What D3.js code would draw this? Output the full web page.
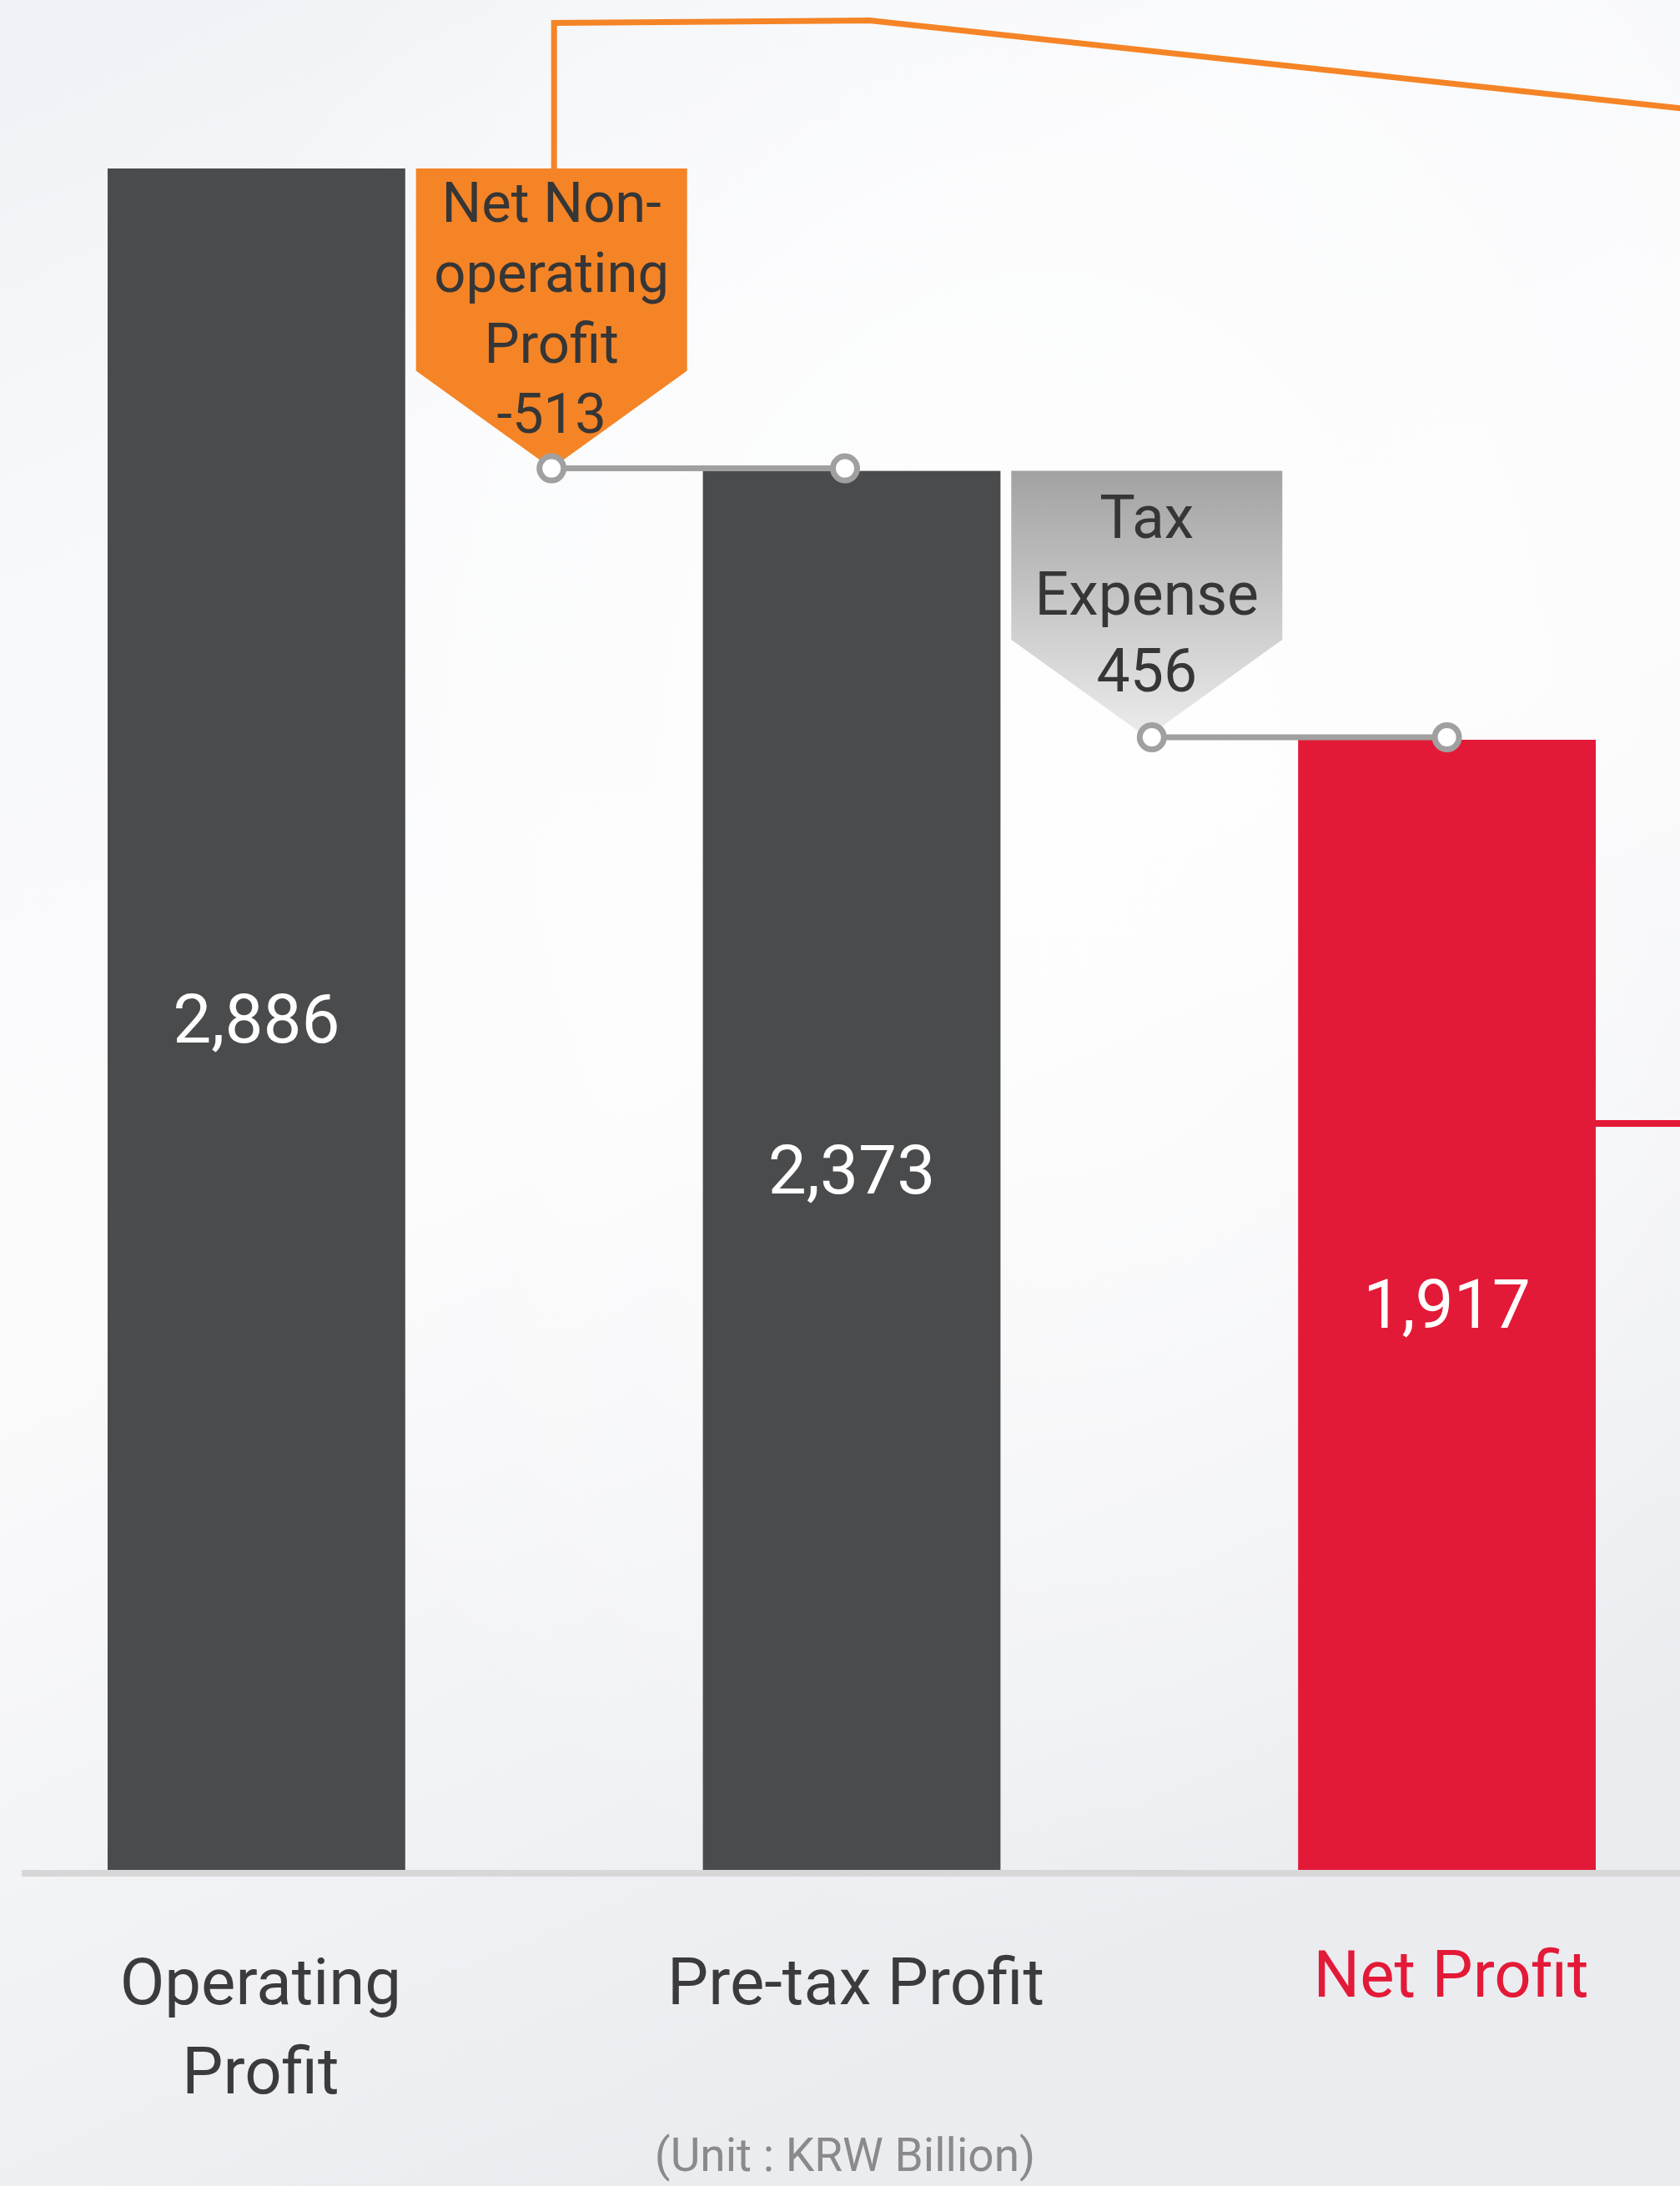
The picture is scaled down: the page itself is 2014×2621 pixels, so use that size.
<!DOCTYPE html>
<html>
<head>
<meta charset="utf-8">
<script src="https://cdn.jsdelivr.net/npm/d3@7"></script>
<style>
  html, body { margin: 0; padding: 0; overflow: hidden; background: #f6f7f9; }
  svg { display: block; }
</style>
</head>
<body>
<div id="chart"></div>
<script>
// ---------------- DATA ----------------
const categories   = ["Operating Profit", "Pre-tax Profit", "Net Profit"];
const categoryLines = [["Operating", "Profit"], ["Pre-tax Profit"], ["Net Profit"]];
const totals       = [2886, 2373, 1917];
const totalLabels  = ["2,886", "2,373", "1,917"];
const stepNames    = [["Net Non-", "operating", "Profit"], ["Tax", "Expense"]];
const stepLabels   = ["-513", "456"];
const stepChange   = [-513, -456];
const unitLabel    = "(Unit : KRW Billion)";
// links continuing off the right edge (position in category units, value in KRW bn)
const orangeLinkPos   = [0.5, 0.5, 1.03, 2.42];
const orangeLinkValue = [2886, 3133, 3137, 2985];
const redLinkPos      = [2.25, 2.45];
const redLinkValue    = [1266, 1266];

// ---------------- LAYOUT ----------------
const W = 2014, H = 2621;
const svg = d3.select("#chart").append("svg").attr("width", W).attr("height", H);
const FONT = "Roboto, 'Noto Sans', sans-serif";

const defs = svg.append("defs");
const bg = defs.append("linearGradient").attr("id", "bg").attr("x1", "0").attr("y1", "0").attr("x2", "0.35").attr("y2", "1");
bg.append("stop").attr("offset", "0").attr("stop-color", "#eef1f5");
bg.append("stop").attr("offset", "0.25").attr("stop-color", "#f8f9fb");
bg.append("stop").attr("offset", "0.55").attr("stop-color", "#fbfbfc");
bg.append("stop").attr("offset", "1").attr("stop-color", "#eaecf0");
const glow = defs.append("radialGradient").attr("id", "glow").attr("cx", "0.62").attr("cy", "0.35").attr("r", "0.55");
glow.append("stop").attr("offset", "0").attr("stop-color", "#ffffff").attr("stop-opacity", 0.85);
glow.append("stop").attr("offset", "1").attr("stop-color", "#ffffff").attr("stop-opacity", 0);
const taxGrad = defs.append("linearGradient").attr("id", "taxGrad").attr("x1", 0).attr("y1", 0).attr("x2", 0).attr("y2", 1);
taxGrad.append("stop").attr("offset", "0").attr("stop-color", "#a2a2a2");
taxGrad.append("stop").attr("offset", "1").attr("stop-color", "#ececec");

svg.append("rect").attr("width", W).attr("height", H).attr("fill", "url(#bg)");
svg.append("rect").attr("width", W).attr("height", H).attr("fill", "url(#glow)");

const x = d3.scaleBand().domain(categories).range([129, 1913]).paddingInner(0.5).paddingOuter(0);
const bw = x.bandwidth();
const y = d3.scaleLinear().domain([0, totals[0]]).range([2242, 202]);
const centerX = c => x(c) + bw / 2;
const pos = d3.scaleLinear().domain([0, 1]).range([centerX(categories[0]), centerX(categories[1])]);

const barColors = ["#4a4b4d", "#4a4b4d", "#e31a37"];
const stepFill = ["#f58426", "url(#taxGrad)"];
const stepFont = [67, 71.5];
const stepLH = [84.5, 92];
const stepDotShift = [0, 6];

// orange link line
const lineGen = d3.line().x(d => pos(d[0])).y(d => y(d[1]));
svg.append("path")
  .attr("d", lineGen(orangeLinkPos.map((p, i) => [p, orangeLinkValue[i]])))
  .attr("fill", "none").attr("stroke", "#f58426").attr("stroke-width", 7).attr("stroke-linejoin", "miter");

// red link line
svg.append("path")
  .attr("d", lineGen(redLinkPos.map((p, i) => [p, redLinkValue[i]])))
  .attr("fill", "none").attr("stroke", "#e31a37").attr("stroke-width", 8);

// bars
svg.selectAll("rect.bar").data(categories).enter().append("rect")
  .attr("class", "bar")
  .attr("x", d => x(d)).attr("width", bw)
  .attr("y", (d, i) => y(totals[i]))
  .attr("height", (d, i) => y(0) - y(totals[i]))
  .attr("fill", (d, i) => barColors[i]);

// axis baseline
svg.append("rect").attr("x", 26).attr("y", y(0)).attr("width", W - 26).attr("height", 8).attr("fill", "#d7d7d8");

// bar value labels
svg.selectAll("text.val").data(categories).enter().append("text")
  .attr("class", "val")
  .attr("x", d => centerX(d))
  .attr("y", (d, i) => (y(totals[i]) + y(0)) / 2 + 28)
  .attr("text-anchor", "middle")
  .attr("font-family", FONT).attr("font-size", 82).attr("fill", "#ffffff")
  .text((d, i) => totalLabels[i]);

// step labels (pentagon callouts) + connectors
stepLabels.forEach((lab, i) => {
  const start = totals[i], end = start + stepChange[i];
  const cx = pos(i + 0.5) - 3;
  const half = 162.5;
  const top = y(start);
  const tip = y(end) - 3;
  const shoulder = tip - 117;
  const g = svg.append("g");
  g.append("path")
    .attr("d", `M${cx - half},${top} L${cx + half},${top} L${cx + half},${shoulder} L${cx},${tip} L${cx - half},${shoulder} Z`)
    .attr("fill", stepFill[i]);
  const lines = stepNames[i].concat([lab]);
  const n = lines.length;
  const mid = (top + tip) / 2 - 13;
  g.selectAll("text").data(lines).enter().append("text")
    .attr("x", cx)
    .attr("y", (d, k) => mid + (k - (n - 1) / 2) * stepLH[i] + stepFont[i] * 0.355)
    .attr("text-anchor", "middle")
    .attr("font-family", FONT).attr("font-size", stepFont[i]).attr("fill", "#363636")
    .text(d => d);
  // connector
  const x1 = cx + stepDotShift[i];
  const x2 = centerX(categories[i + 1]) - (i === 0 ? 8 : 0);
  g.append("line").attr("x1", x1).attr("x2", x2).attr("y1", tip).attr("y2", tip)
    .attr("stroke", "#a0a0a0").attr("stroke-width", 7);
  [x1, x2].forEach(px => {
    g.append("circle").attr("cx", px).attr("cy", tip).attr("r", 14.5)
      .attr("fill", "#ffffff").attr("stroke", "#a0a0a0").attr("stroke-width", 7);
  });
});

// category labels
categories.forEach((c, i) => {
  const baseY = i === 2 ? 2394 : 2403;
  svg.append("g").selectAll("text").data(categoryLines[i]).enter().append("text")
    .attr("x", centerX(c) + 5)
    .attr("y", (d, k) => baseY + k * 107)
    .attr("text-anchor", "middle")
    .attr("font-family", FONT).attr("font-size", 78)
    .attr("fill", i === 2 ? "#e31a37" : "#3b3b3d")
    .text(d => d);
});

// unit
svg.append("text")
  .attr("x", centerX(categories[1]) - 8).attr("y", 2603)
  .attr("text-anchor", "middle")
  .attr("font-family", FONT).attr("font-size", 55).attr("fill", "#8a8a8a")
  .text(unitLabel);
</script>
</body>
</html>
